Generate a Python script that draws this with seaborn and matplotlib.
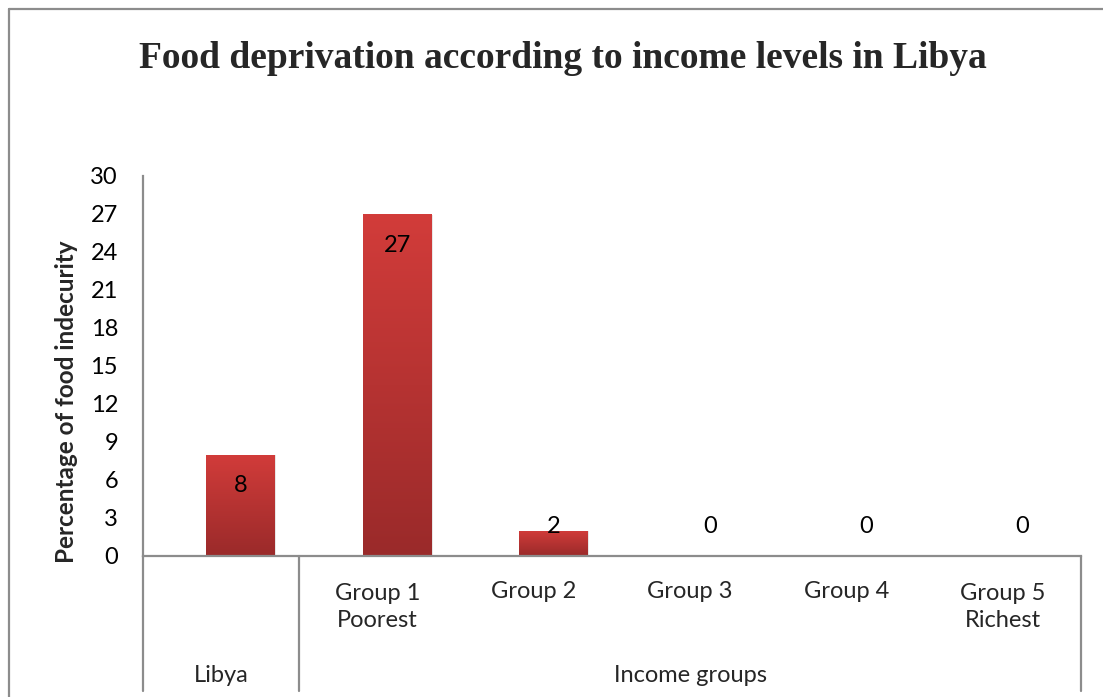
import numpy as np
import pandas as pd
import matplotlib
matplotlib.use("Agg")
import matplotlib.pyplot as plt
import matplotlib.transforms as mtransforms
from matplotlib.lines import Line2D
import seaborn as sns

# ---- data ----
categories = ["Libya", "Group 1\nPoorest", "Group 2", "Group 3", "Group 4", "Group 5\nRichest"]
values = [8, 27, 2, 0, 0, 0]
group_labels = ["Libya", "Income groups"]
group_spans = [(0, 0), (1, 5)]
title = "Food deprivation according to income levels in Libya"
ylabel = "Percentage of food indecurity"
yticks = list(range(0, 31, 3))

sns.set_theme(style="white")
plt.rcParams['font.family'] = ['Lato', 'DejaVu Sans']

W, H = 1103, 697
fig = plt.figure(figsize=(W / 100, H / 100), dpi=100)
ax = fig.add_axes([143 / W, 1 - 556 / H, (1081 - 143) / W, (556 - 176) / H])

df = pd.DataFrame({"cat": categories, "val": values})
sns.barplot(data=df, x="cat", y="val", ax=ax, width=0.44, color="#C0392B",
            order=categories, saturation=1)

BAR_SHIFT = 0.125  # bars sit slightly right of the category centre

ax.set_yticks(yticks)
ax.set_yticklabels([str(t) for t in yticks], fontsize=17, color="black")
ax.tick_params(axis="y", length=0, pad=18)
ax.set_xticks([])
ax.set_xlabel("")
ax.set_ylabel(ylabel, fontsize=17.5, fontweight="bold")

gray = "#8c8c8c"
for s in ["top", "right"]:
    ax.spines[s].set_visible(False)
for s in ["left", "bottom"]:
    ax.spines[s].set_color(gray)
    ax.spines[s].set_linewidth(1.6)

# gradient fill of bars
grad = np.linspace(0, 1, 256).reshape(-1, 1)
cmap = matplotlib.colors.LinearSegmentedColormap.from_list("g", ["#9a2a2a", "#d23c3a"])
for p in list(ax.patches):
    p.set_x(p.get_x() + BAR_SHIFT)
    x0, y0 = p.get_x(), p.get_y()
    w, h = p.get_width(), p.get_height()
    if h <= 0:
        p.set_visible(False)
        continue
    sh = matplotlib.patches.Rectangle((x0 + 0.008, y0), w, h - 0.05, facecolor="#bbbbbb",
                                      edgecolor="none", alpha=0.35, zorder=1.5)
    ax.add_patch(sh)
    p.set_facecolor("none")
    p.set_edgecolor("none")
    im = ax.imshow(grad, extent=[x0, x0 + w, y0, y0 + h], origin="lower", cmap=cmap,
                   aspect="auto", zorder=2)
    im.set_clip_path(p)
ax.set_xlim(-0.5, len(categories) - 0.5)
ax.set_ylim(0, 30)

def ay(ypix):
    return (556 - ypix) / (556 - 176)

ax.yaxis.set_label_coords((78 - 143) / (1081 - 143), ay(402))

# data labels
px_per_unit = (556 - 176) / 30
for i, v in enumerate(values):
    xc = i + BAR_SHIFT
    if v * px_per_unit > 60:
        ax.annotate(str(v), (xc, v), xytext=(0, -31 * 0.72), textcoords="offset points",
                    ha="center", va="center", fontsize=17, color="black", zorder=5)
    else:
        ax.text(xc, 2.3, str(v), ha="center", va="center", fontsize=17, color="black", zorder=5)

# category labels (multi-level)
trans = mtransforms.blended_transform_factory(ax.transData, ax.transAxes)
for i, c in enumerate(categories):
    if i == 0:
        continue  # Libya has only an outer-level label
    ypix = 607 if "\n" in c else 591
    ax.text(i, ay(ypix), c, transform=trans, ha="center", va="center", fontsize=17,
            linespacing=1.3, clip_on=False)

for lab, (a, b) in zip(group_labels, group_spans):
    ax.text((a + b) / 2, ay(675), lab, transform=trans, ha="center", va="center",
            fontsize=17, clip_on=False)

for xb in [-0.5, 0.5, len(categories) - 0.5]:
    ax.add_line(Line2D([xb, xb], [0, ay(691)], transform=trans, color=gray, lw=1.6,
                       clip_on=False))

# title
fig.text(563 / W, 1 - 58 / H, title, ha="center", va="center", fontsize=27,
         fontweight="bold", family="Liberation Serif")

# chart border (top and left)
fig.add_artist(Line2D([9 / W, 1], [1 - 9 / H, 1 - 9 / H], transform=fig.transFigure,
                      color=gray, lw=1.6))
fig.add_artist(Line2D([9 / W, 9 / W], [0, 1 - 9 / H], transform=fig.transFigure,
                      color=gray, lw=1.6))

fig.savefig("out.png", dpi=100)
